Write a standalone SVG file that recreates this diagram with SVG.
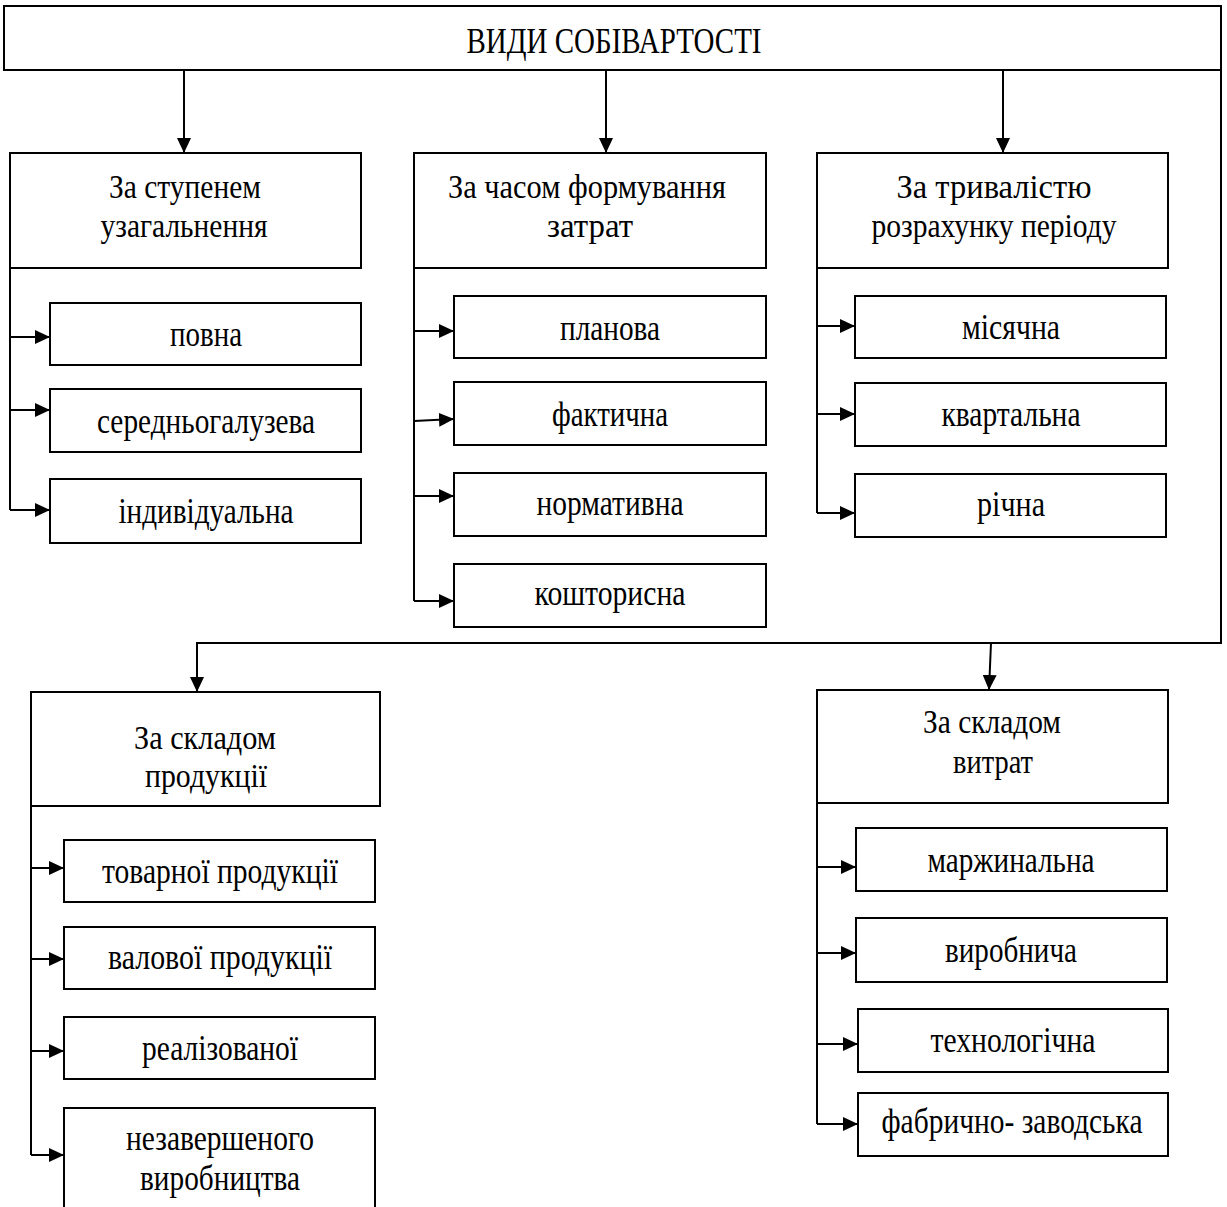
<svg xmlns="http://www.w3.org/2000/svg" width="1227" height="1207" viewBox="0 0 1227 1207">
<style>
.box{fill:#fff;stroke:#000;stroke-width:2}
.ln{fill:none;stroke:#000;stroke-width:2}
text{font-family:"Liberation Serif","Times New Roman",serif;fill:#000;text-anchor:middle}
.h{font-size:36px}
.c{font-size:34px}
.s{font-size:36px}
</style>
<defs>
<marker id="ah" markerUnits="userSpaceOnUse" markerWidth="16" markerHeight="14" refX="15" refY="7" orient="auto">
<path d="M0,0 L15,7 L0,14 z" fill="#000"/>
</marker>
</defs>
<rect width="1227" height="1207" fill="#fff"/>
<g id="connectors">
<line class="ln" x1="184" y1="70" x2="184" y2="153" marker-end="url(#ah)"/>
<line class="ln" x1="606" y1="70" x2="606" y2="153" marker-end="url(#ah)"/>
<line class="ln" x1="1003" y1="70" x2="1003" y2="153" marker-end="url(#ah)"/>
<path class="ln" d="M1221,70 V643 H197 V692" marker-end="url(#ah)"/>
<line class="ln" x1="991" y1="643" x2="989" y2="690" marker-end="url(#ah)"/>
<path class="ln" d="M10,268 V510"/>
<line class="ln" x1="10" y1="337" x2="50" y2="337" marker-end="url(#ah)"/>
<line class="ln" x1="10" y1="410" x2="50" y2="410" marker-end="url(#ah)"/>
<line class="ln" x1="10" y1="510" x2="50" y2="510" marker-end="url(#ah)"/>
<path class="ln" d="M414,268 V601"/>
<line class="ln" x1="414" y1="331" x2="454" y2="331" marker-end="url(#ah)"/>
<line class="ln" x1="414" y1="421" x2="454" y2="419" marker-end="url(#ah)"/>
<line class="ln" x1="414" y1="496" x2="454" y2="496" marker-end="url(#ah)"/>
<line class="ln" x1="414" y1="601" x2="454" y2="601" marker-end="url(#ah)"/>
<path class="ln" d="M817,268 V513"/>
<line class="ln" x1="817" y1="326" x2="855" y2="326" marker-end="url(#ah)"/>
<line class="ln" x1="817" y1="414" x2="855" y2="414" marker-end="url(#ah)"/>
<line class="ln" x1="817" y1="513" x2="855" y2="513" marker-end="url(#ah)"/>
<path class="ln" d="M31,806 V1155"/>
<line class="ln" x1="31" y1="868" x2="64" y2="868" marker-end="url(#ah)"/>
<line class="ln" x1="31" y1="959" x2="64" y2="959" marker-end="url(#ah)"/>
<line class="ln" x1="31" y1="1051" x2="64" y2="1051" marker-end="url(#ah)"/>
<line class="ln" x1="31" y1="1155" x2="64" y2="1155" marker-end="url(#ah)"/>
<path class="ln" d="M817,803 V1124"/>
<line class="ln" x1="817" y1="867" x2="856" y2="867" marker-end="url(#ah)"/>
<line class="ln" x1="817" y1="953" x2="856" y2="953" marker-end="url(#ah)"/>
<line class="ln" x1="817" y1="1044" x2="858" y2="1044" marker-end="url(#ah)"/>
<line class="ln" x1="817" y1="1124" x2="858" y2="1124" marker-end="url(#ah)"/>
</g>
<g id="root"><rect class="box" x="4" y="6" width="1217" height="64"/><text class="h" x="614" y="53" textLength="295" lengthAdjust="spacingAndGlyphs">ВИДИ СОБІВАРТОСТІ</text></g>
<g id="cat1"><rect class="box" x="10" y="153" width="351" height="115"/><text class="c" x="185" y="198" textLength="152" lengthAdjust="spacingAndGlyphs">За ступенем</text><text class="c" x="184" y="237" textLength="167" lengthAdjust="spacingAndGlyphs">узагальнення</text></g>
<g id="cat2"><rect class="box" x="414" y="153" width="352" height="115"/><text class="c" x="587" y="198" textLength="278" lengthAdjust="spacingAndGlyphs">За часом формування</text><text class="c" x="590" y="237" textLength="86" lengthAdjust="spacingAndGlyphs">затрат</text></g>
<g id="cat3"><rect class="box" x="817" y="153" width="351" height="115"/><text class="c" x="994" y="198" textLength="195" lengthAdjust="spacingAndGlyphs">За тривалістю</text><text class="c" x="994" y="237" textLength="245" lengthAdjust="spacingAndGlyphs">розрахунку періоду</text></g>
<g id="cat4"><rect class="box" x="31" y="692" width="349" height="114"/><text class="c" x="205" y="749" textLength="142" lengthAdjust="spacingAndGlyphs">За складом</text><text class="c" x="206" y="787" textLength="122" lengthAdjust="spacingAndGlyphs">продукції</text></g>
<g id="cat5"><rect class="box" x="817" y="690" width="351" height="113"/><text class="c" x="992" y="733" textLength="138" lengthAdjust="spacingAndGlyphs">За складом</text><text class="c" x="993" y="773" textLength="80" lengthAdjust="spacingAndGlyphs">витрат</text></g>
<g id="n11"><rect class="box" x="50" y="303" width="311" height="62"/><text class="s" x="206" y="346" textLength="72" lengthAdjust="spacingAndGlyphs">повна</text></g>
<g id="n12"><rect class="box" x="50" y="389" width="311" height="63"/><text class="s" x="206" y="433" textLength="218" lengthAdjust="spacingAndGlyphs">середньогалузева</text></g>
<g id="n13"><rect class="box" x="50" y="479" width="311" height="64"/><text class="s" x="206" y="523" textLength="175" lengthAdjust="spacingAndGlyphs">індивідуальна</text></g>
<g id="n21"><rect class="box" x="454" y="296" width="312" height="62"/><text class="s" x="610" y="340" textLength="100" lengthAdjust="spacingAndGlyphs">планова</text></g>
<g id="n22"><rect class="box" x="454" y="382" width="312" height="63"/><text class="s" x="610" y="426" textLength="116" lengthAdjust="spacingAndGlyphs">фактична</text></g>
<g id="n23"><rect class="box" x="454" y="473" width="312" height="63"/><text class="s" x="610" y="515" textLength="147" lengthAdjust="spacingAndGlyphs">нормативна</text></g>
<g id="n24"><rect class="box" x="454" y="564" width="312" height="63"/><text class="s" x="610" y="605" textLength="151" lengthAdjust="spacingAndGlyphs">кошторисна</text></g>
<g id="n31"><rect class="box" x="855" y="296" width="311" height="62"/><text class="s" x="1011" y="339" textLength="98" lengthAdjust="spacingAndGlyphs">місячна</text></g>
<g id="n32"><rect class="box" x="855" y="383" width="311" height="63"/><text class="s" x="1011" y="426" textLength="139" lengthAdjust="spacingAndGlyphs">квартальна</text></g>
<g id="n33"><rect class="box" x="855" y="474" width="311" height="63"/><text class="s" x="1011" y="516" textLength="68" lengthAdjust="spacingAndGlyphs">річна</text></g>
<g id="n41"><rect class="box" x="64" y="840" width="311" height="62"/><text class="s" x="220" y="883" textLength="236" lengthAdjust="spacingAndGlyphs">товарної продукції</text></g>
<g id="n42"><rect class="box" x="64" y="927" width="311" height="62"/><text class="s" x="220" y="969" textLength="224" lengthAdjust="spacingAndGlyphs">валової продукції</text></g>
<g id="n43"><rect class="box" x="64" y="1017" width="311" height="62"/><text class="s" x="220" y="1060" textLength="156" lengthAdjust="spacingAndGlyphs">реалізованої</text></g>
<g id="n44"><rect class="box" x="64" y="1108" width="311" height="110"/><text class="s" x="220" y="1150" textLength="188" lengthAdjust="spacingAndGlyphs">незавершеного</text><text class="s" x="220" y="1190" textLength="160" lengthAdjust="spacingAndGlyphs">виробництва</text></g>
<g id="n51"><rect class="box" x="856" y="828" width="311" height="63"/><text class="s" x="1011" y="872" textLength="167" lengthAdjust="spacingAndGlyphs">маржинальна</text></g>
<g id="n52"><rect class="box" x="856" y="918" width="311" height="64"/><text class="s" x="1011" y="962" textLength="132" lengthAdjust="spacingAndGlyphs">виробнича</text></g>
<g id="n53"><rect class="box" x="858" y="1009" width="310" height="63"/><text class="s" x="1013" y="1052" textLength="165" lengthAdjust="spacingAndGlyphs">технологічна</text></g>
<g id="n54"><rect class="box" x="858" y="1093" width="310" height="63"/><text class="s" x="1012" y="1133" textLength="261" lengthAdjust="spacingAndGlyphs">фабрично- заводська</text></g>
</svg>
